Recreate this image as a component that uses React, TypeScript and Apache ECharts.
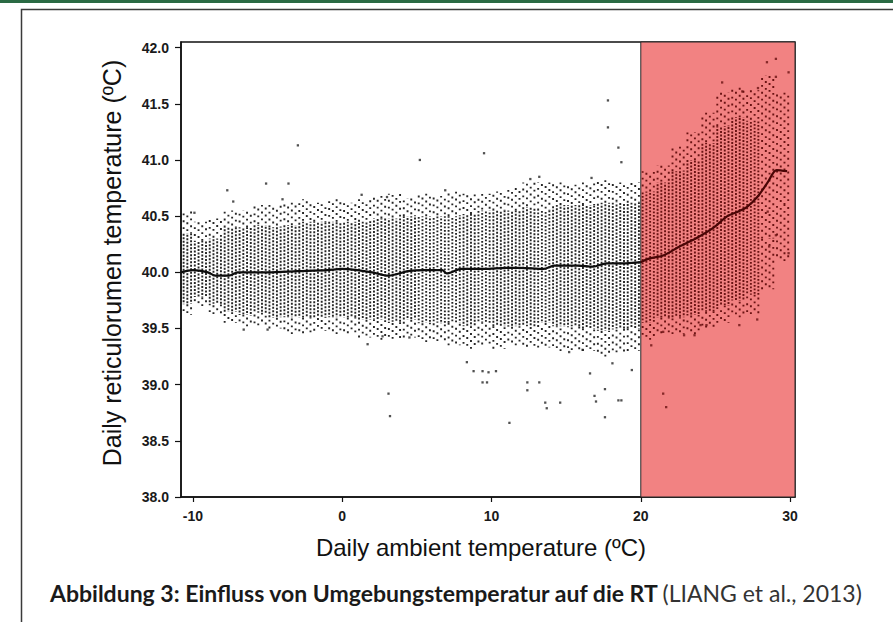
import React, { useEffect, useRef } from 'react';
import * as echarts from 'echarts';

// ---- data ----
const binCenter = [-10.5, -9.5, -8.5, -7.5, -6.5, -5.5, -4.5, -3.5, -2.5, -1.5, -0.5, 0.5, 1.5, 2.5, 3.5, 4.5, 5.5, 6.5, 7.5, 8.5, 9.5, 10.5, 11.5, 12.5, 13.5, 14.5, 15.5, 16.5, 17.5, 18.5, 19.5, 20.5, 21.5, 22.5, 23.5, 24.5, 25.5, 26.5, 27.5, 28.5, 29.5];
const outerLow = [39.62, 39.7, 39.62, 39.55, 39.52, 39.52, 39.5, 39.45, 39.45, 39.48, 39.45, 39.45, 39.42, 39.4, 39.4, 39.42, 39.38, 39.38, 39.35, 39.32, 39.35, 39.32, 39.35, 39.33, 39.33, 39.3, 39.3, 39.3, 39.25, 39.28, 39.3, 39.4, 39.45, 39.45, 39.45, 39.5, 39.55, 39.6, 39.62, 39.85, 40.1];
const coreLow = [39.72, 39.78, 39.72, 39.65, 39.62, 39.64, 39.6, 39.6, 39.6, 39.6, 39.6, 39.6, 39.58, 39.58, 39.56, 39.58, 39.55, 39.55, 39.55, 39.52, 39.55, 39.52, 39.52, 39.52, 39.55, 39.52, 39.52, 39.5, 39.48, 39.5, 39.5, 39.55, 39.6, 39.6, 39.62, 39.65, 39.7, 39.75, 39.8, 40.3, 40.6];
const coreHigh = [40.35, 40.28, 40.3, 40.4, 40.4, 40.42, 40.4, 40.42, 40.45, 40.45, 40.45, 40.45, 40.45, 40.48, 40.48, 40.5, 40.5, 40.5, 40.5, 40.52, 40.55, 40.55, 40.55, 40.58, 40.55, 40.6, 40.6, 40.6, 40.62, 40.62, 40.62, 40.72, 40.8, 40.9, 41.0, 41.15, 41.3, 41.38, 41.35, 40.3, 40.6];
const outerHigh = [40.55, 40.45, 40.48, 40.55, 40.55, 40.6, 40.6, 40.62, 40.65, 40.62, 40.65, 40.62, 40.65, 40.68, 40.7, 40.66, 40.7, 40.68, 40.72, 40.7, 40.7, 40.72, 40.75, 40.8, 40.8, 40.8, 40.78, 40.8, 40.82, 40.8, 40.8, 40.9, 40.95, 41.12, 41.25, 41.42, 41.6, 41.65, 41.62, 41.75, 41.6];

const outlierT = [-9.9, -7.7, -7.3, -6.6, -5.1, -5.0, -4.0, -3.6, -2.97, 1.3, 1.7, 2.7, 3.0, 3.1, 3.2, 4.5, 5.2, 6.9, 8.35, 8.8, 9.4, 9.4, 9.5, 9.7, 9.8, 10.3, 11.2, 12.4, 12.4, 12.6, 13.2, 13.2, 13.6, 13.7, 14.6, 15.2, 16.1, 16.6, 16.7, 16.9, 17.0, 17.6, 17.6, 17.8, 17.8, 18.1, 18.5, 18.5, 18.7, 18.7, 19.4, 20.7, 21.5, 21.5, 21.7, 22.9, 23.6, 24.0, 24.4, 25.45, 26.6, 26.8, 27.8, 27.85, 28.45, 28.5, 28.6, 29.05, 29.05, 29.05, 29.9, 29.9];
const outlierV = [40.53, 40.73, 40.63, 39.49, 40.79, 39.49, 40.65, 40.79, 41.13, 40.69, 39.36, 39.43, 40.67, 38.92, 38.72, 39.42, 41.0, 40.73, 39.2, 39.12, 39.12, 39.02, 41.06, 39.02, 39.11, 39.12, 38.66, 39.02, 38.95, 40.83, 40.85, 39.02, 38.84, 38.79, 38.84, 39.29, 39.31, 39.1, 40.84, 38.9, 38.85, 38.96, 38.71, 41.53, 41.29, 39.19, 41.11, 38.86, 40.98, 38.86, 39.13, 39.35, 38.92, 39.47, 38.8, 39.44, 39.44, 39.53, 39.53, 41.69, 39.53, 41.61, 39.58, 41.64, 41.87, 40.54, 40.23, 41.9, 41.74, 40.33, 41.78, 40.17];

const trendT = [-10.8, -10, -9, -8.5, -7.6, -7, -5, -3, -1, 0, 1, 2, 3.1, 4.4, 5.5, 6.7, 7, 8, 9.5, 11, 11.9, 13.5, 14.2, 15.8, 16.8, 17.7, 19, 20, 20.5, 21.5, 22.6, 23.8, 24.9, 25.8, 26.5, 27.1, 27.8, 28.5, 29.1, 29.8];
const trendV = [40.0, 40.02, 40.0, 39.97, 39.97, 40.0, 40.0, 40.01, 40.02, 40.03, 40.02, 40.0, 39.97, 40.01, 40.02, 40.02, 39.99, 40.03, 40.03, 40.04, 40.04, 40.03, 40.06, 40.06, 40.05, 40.08, 40.08, 40.09, 40.12, 40.15, 40.23, 40.31, 40.4, 40.5, 40.54, 40.58, 40.67, 40.8, 40.91, 40.9];

const xTicks = [-10, 0, 10, 20, 30];
const yTicks = [38.0, 38.5, 39.0, 39.5, 40.0, 40.5, 41.0, 41.5, 42.0];
const hotThreshold = 20;

const X_MIN = -10.8;
const X_MAX = 30.33;
const Y_MIN = 38;
const Y_MAX = 42.05;

const DOT = '#262626';
const DOT_HOT = '#6a1212';

export default function App() {
  const ref = useRef<HTMLDivElement>(null);
  useEffect(() => {
    const chart = echarts.init(ref.current!, null, { renderer: 'svg' });
    const binData = binCenter.map((t, i) => [t, outerLow[i], coreLow[i], coreHigh[i], outerHigh[i]]);
    const outliers = outlierT.map((t, i) => [t, outlierV[i]]);
    const trend = trendT.map((t, i) => [t, trendV[i]]);
    const trendCool = trend.filter((p) => p[0] <= hotThreshold);
    const trendHot = trend.filter((p) => p[0] >= hotThreshold);

    const renderBin = (params: any, api: any) => {
      const idx = params.dataIndex;
      const t = api.value(0);
      const oLo = api.value(1);
      const cLo = api.value(2);
      const cHi = api.value(3);
      const oHi = api.value(4);
      const color = t >= hotThreshold ? DOT_HOT : DOT;
      const children: any[] = [];
      const stripes = 4;
      for (let k = 0; k < stripes; k++) {
        const x = t - 0.5 + (k + 0.5) / stripes;
        const pA = api.coord([x, oLo]);
        const pB = api.coord([x, cLo]);
        const pC = api.coord([x, cHi]);
        const pD = api.coord([x, oHi]);
        const off = k * 1.7 + (idx % 3) * 1.1;
        const sparse = { stroke: color, lineWidth: 1.9, lineDash: [1.9, 5.0], lineDashOffset: off * 1.6 };
        const dense = { stroke: color, lineWidth: 1.9, lineDash: [1.9, 1.6], lineDashOffset: off };
        children.push({ type: 'line', shape: { x1: pA[0], y1: pA[1], x2: pB[0], y2: pB[1] }, style: sparse });
        if (cHi > cLo) {
          children.push({ type: 'line', shape: { x1: pB[0], y1: pB[1], x2: pC[0], y2: pC[1] }, style: dense });
        }
        children.push({ type: 'line', shape: { x1: pC[0], y1: pC[1], x2: pD[0], y2: pD[1] }, style: sparse });
      }
      return { type: 'group', children };
    };

    const axisFont = { fontFamily: '"Liberation Sans", Arial, sans-serif', fontWeight: 'bold' as const, fontSize: 14, color: '#1a1a1a' };

    chart.setOption({
      animation: false,
      backgroundColor: '#ffffff',
      grid: { left: 181, top: 42, width: 614, height: 455, show: true, borderColor: '#111', borderWidth: 1.5, backgroundColor: 'transparent' },
      xAxis: {
        type: 'value', min: X_MIN, max: X_MAX,
        splitLine: { show: false },
        axisLine: { show: true, onZero: false, lineStyle: { color: '#111', width: 1.5 } },
        axisTick: { show: true, customValues: xTicks, length: 5, lineStyle: { color: '#111', width: 1.2 } },
        axisLabel: { ...axisFont, customValues: xTicks, margin: 12, formatter: (v: number) => String(v) },
      },
      yAxis: {
        type: 'value', min: Y_MIN, max: Y_MAX,
        splitLine: { show: false },
        axisLine: { show: true, onZero: false, lineStyle: { color: '#111', width: 1.5 } },
        axisTick: { show: true, customValues: yTicks, length: 6, lineStyle: { color: '#111', width: 1.2 } },
        axisLabel: { ...axisFont, customValues: yTicks, margin: 12, formatter: (v: number) => v.toFixed(1) },
      },
      series: [
        {
          type: 'scatter', z: 2, silent: true, symbol: 'rect', symbolSize: 2.3,
          itemStyle: { color: (p: any) => (p.value[0] >= hotThreshold ? DOT_HOT : DOT) },
          data: outliers,
          markArea: {
            silent: true,
            itemStyle: { color: '#F28282', borderColor: '#2a2a2a', borderWidth: 1 },
            data: [[{ coord: [hotThreshold, Y_MIN] }, { coord: [X_MAX, Y_MAX] }]],
          },
        },
        {
          type: 'custom', z: 3, clip: true, silent: true,
          renderItem: renderBin,
          encode: { x: 0, y: 1 },
          data: binData,
        },
        {
          type: 'line', z: 5, silent: true, smooth: 0.3, showSymbol: false, symbol: 'none',
          lineStyle: { width: 2.2, color: '#0d0d0d' },
          data: trendCool,
        },
        {
          type: 'line', z: 5, silent: true, smooth: 0.3, showSymbol: false, symbol: 'none',
          lineStyle: { width: 2.2, color: '#4a0606' },
          data: trendHot,
        },
      ],
      graphic: [
        { type: 'rect', shape: { x: 0, y: 0, width: 893, height: 3 }, style: { fill: '#2a6a44' }, silent: true },
        { type: 'polyline', shape: { points: [[21.5, 640], [21.5, 9.5], [900, 9.5]] }, style: { stroke: '#3a3a3a', lineWidth: 1.5, fill: 'none' }, silent: true },
        {
          type: 'text', x: 112, y: 263, rotation: Math.PI / 2, silent: true,
          style: { text: 'Daily reticulorumen temperature (\u00baC)', fontFamily: '"Liberation Sans", Arial, sans-serif', fontSize: 25, fill: '#111', align: 'center', verticalAlign: 'middle' },
        },
        {
          type: 'text', x: 481, y: 547, silent: true,
          style: { text: 'Daily ambient temperature (\u00baC)', fontFamily: '"Liberation Sans", Arial, sans-serif', fontSize: 24, fill: '#111', align: 'center', verticalAlign: 'middle' },
        },
        {
          type: 'text', x: 50, y: 593, silent: true,
          style: {
            text: '{b|Abbildung 3: Einfluss von Umgebungstemperatur auf die RT} {r|(LIANG et al., 2013)}',
            align: 'left', verticalAlign: 'middle',
            rich: {
              b: { fontFamily: 'Lato, "Open Sans", sans-serif', fontWeight: 'bold', fontSize: 23, fill: '#1a1a1a' },
              r: { fontFamily: 'Lato, "Open Sans", sans-serif', fontSize: 23, fill: '#333' },
            },
          },
        },
      ],
    });
    return () => chart.dispose();
  }, []);
  return <div ref={ref} style={{ position: 'absolute', left: 0, top: 0, width: 893, height: 622, background: '#fff' }} />;
}
